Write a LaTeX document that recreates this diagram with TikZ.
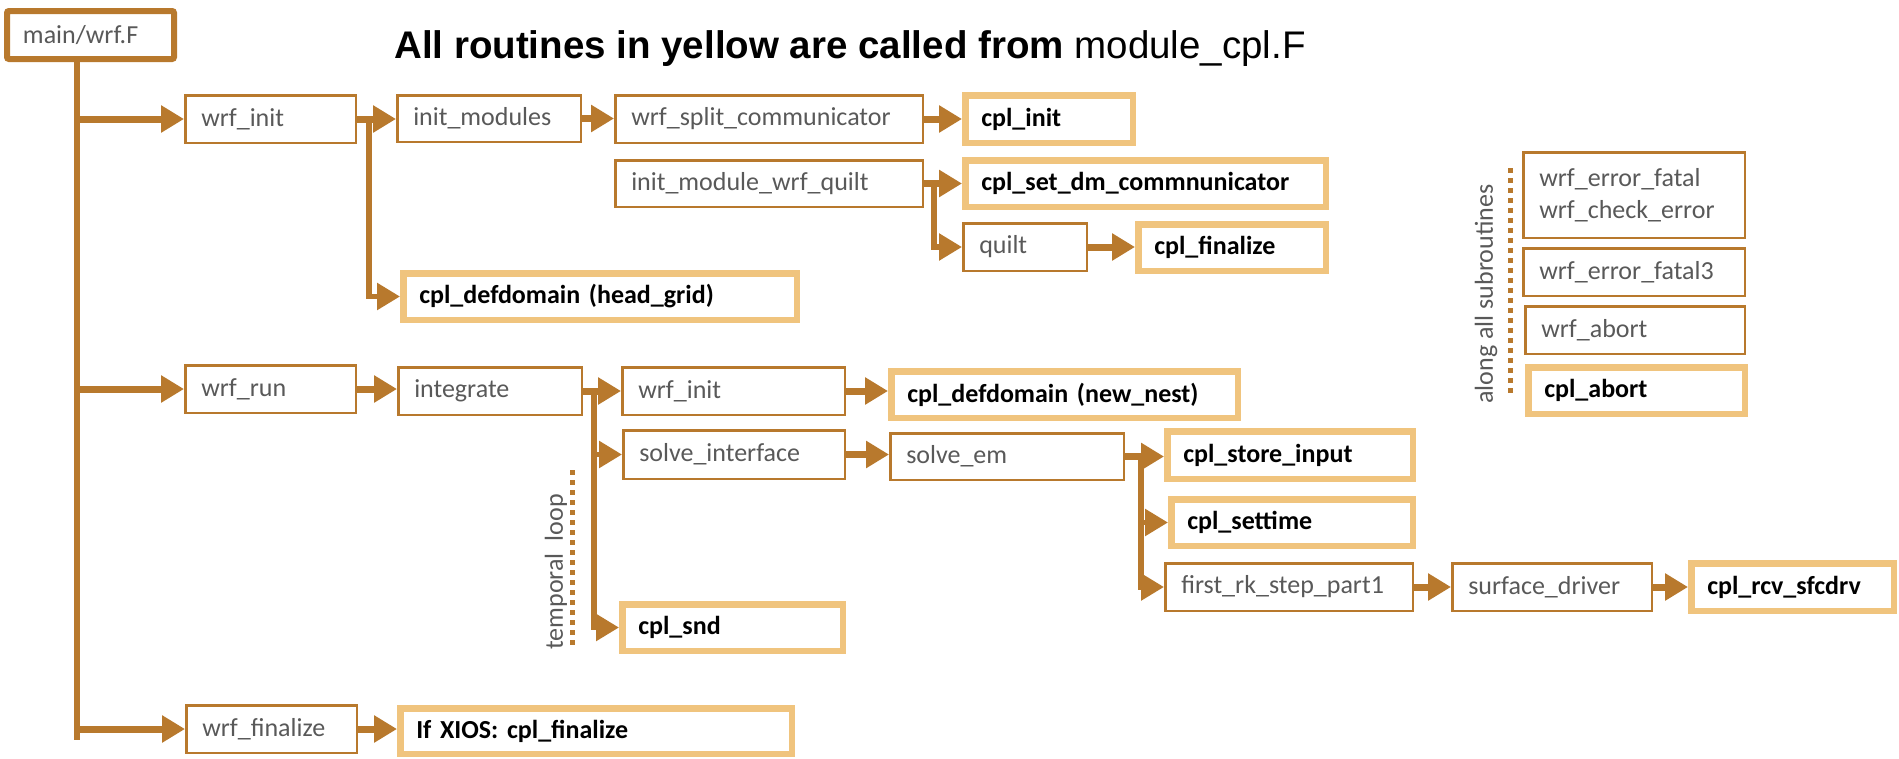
\documentclass[tikz,border=0pt]{standalone}
\usepackage{fontspec}
\setmainfont{Carlito}
\newfontfamily\arialfont{Liberation Sans}
\usetikzlibrary{arrows.meta,calc}

\definecolor{brn}{RGB}{184,121,45}
\definecolor{lightor}{RGB}{240,196,126}
\definecolor{txtgray}{RGB}{89,89,89}

\newcommand\nobreakwords{\hyphenpenalty 10000\relax\exhyphenpenalty 10000\relax}
\newcommand\labelfont{\fontsize{26}{32}\selectfont\nobreakwords}

\tikzset{
  boxtext/.style={font={\labelfont}},
  box/.style={rectangle, inner ysep=0pt, inner xsep=16pt, align=left, boxtext},
  callbox/.style={box, draw=brn, line width=2.5pt, text=txtgray},
  cplbox/.style={box, draw=lightor, line width=6.5pt, text=black, font={\labelfont\bfseries}},
  mainbox/.style={box, draw=brn, line width=6pt, text=txtgray, rounded corners=2pt},
  flow/.style={draw=brn, line width=7pt, -{Triangle[length=23pt,width=26pt]}},
  branch/.style={draw=brn, line width=5.5pt, -{Triangle[length=23pt,width=26pt]}},
  trunk/.style={draw=brn, line width=6pt},
  loopmark/.style={draw=brn, line width=5pt, dash pattern=on 5pt off 5pt},
  sidenote/.style={text=txtgray, boxtext, rotate=90, inner sep=0pt},
}

% \routine{style}{border width}{name}{x1}{y1}{x2}{y2}{label}
\newcommand\routine[8]{%
  \pgfmathsetmacro\rtw{#6-#4-#2-32}%
  \pgfmathsetmacro\rht{#7-#5-#2}%
  \node[#1, text width=\rtw pt, minimum height=\rht pt] (#3) at ({(#4+#6)/2},{(#5+#7)/2}) {#8};}

\begin{document}
\begin{tikzpicture}[x=1pt, y=-1pt]
\useasboundingbox[fill=white] (0,0) rectangle (1899,758);

% heading
\node[anchor=base west, inner sep=0pt, font={\arialfont\fontsize{38.5}{42}\selectfont}] (heading) at (394,58)
  {\textbf{All routines in yellow are called from} module\_cpl.F};

% routines
\routine{mainbox}{6}{main}{4}{8}{177}{62}{main/wrf.F}

\routine{callbox}{2.5}{wrfinit}{184}{94}{357}{144}{wrf\_init}
\routine{callbox}{2.5}{initmod}{396}{94}{582}{143}{init\_modules}
\routine{callbox}{2.5}{wrfsplit}{614}{94}{924}{144}{wrf\_split\_communicator}
\routine{cplbox}{6.5}{cplinit}{962}{92}{1136}{146}{cpl\_init}
\routine{callbox}{2.5}{quiltmod}{614}{159}{924}{208}{init\_module\_wrf\_quilt}
\routine{cplbox}{6.5}{setdm}{962}{157}{1329}{210}{cpl\_set\_dm\_commnunicator}
\routine{callbox}{2.5}{quilt}{962}{222}{1088}{272}{quilt}
\routine{cplbox}{6.5}{cplfin}{1135}{221}{1329}{274}{cpl\_finalize}
\routine{cplbox}{6.5}{defhead}{400}{270}{800}{323}{cpl\_defdomain (head\_grid)}

\routine{callbox}{2.5}{errfatal}{1522}{151}{1746}{239}{wrf\_error\_fatal\\wrf\_check\_error}
\routine{callbox}{2.5}{errfatalthree}{1522}{247}{1746}{297}{wrf\_error\_fatal3}
\routine{callbox}{2.5}{wrfabort}{1524}{305}{1746}{355}{wrf\_abort}
\routine{cplbox}{6.5}{cplabort}{1525}{364}{1748}{417}{cpl\_abort}

\routine{callbox}{2.5}{wrfrun}{184}{364}{357}{414}{wrf\_run}
\routine{callbox}{2.5}{integrate}{397}{366}{583}{416}{integrate}
\routine{callbox}{2.5}{wrfinitnest}{621}{366}{846}{416}{wrf\_init}
\routine{cplbox}{6.5}{defnest}{888}{368}{1241}{421}{cpl\_defdomain (new\_nest)}
\routine{callbox}{2.5}{solveint}{622}{429}{846}{480}{solve\_interface}
\routine{callbox}{2.5}{solveem}{889}{432}{1125}{481}{solve\_em}
\routine{cplbox}{6.5}{storein}{1164}{428}{1416}{482}{cpl\_store\_input}
\routine{cplbox}{6.5}{settime}{1168}{496}{1416}{549}{cpl\_settime}
\routine{callbox}{2.5}{firstrk}{1164}{562}{1414}{612}{first\_rk\_step\_part1}
\routine{callbox}{2.5}{surfdrv}{1451}{562}{1653}{612}{surface\_driver}
\routine{cplbox}{6.5}{rcvsfc}{1688}{560}{1897}{614}{cpl\_rcv\_sfcdrv}
\routine{cplbox}{6.5}{cplsnd}{619}{601}{846}{654}{cpl\_snd}

\routine{callbox}{2.5}{wrffin}{185}{704}{358}{754}{wrf\_finalize}
\routine{cplbox}{6.5}{xiosfin}{397}{705}{795}{757}{If XIOS: cpl\_finalize}

% side notes with their dotted brackets
\node[sidenote] (alongnote) at (1486,294) {along all subroutines};
\draw[loopmark] (1510,168) -- (1510,396);
\node[sidenote] (loopnote) at (556,572) {temporal\hspace{12pt}loop};
\draw[loopmark] (572,470) -- (572,649);

% main call trunk
\coordinate (trunkend) at (77,740);
\draw[trunk] (main.south -| trunkend) -- (trunkend);
\draw[flow] (trunkend |- wrfinit.west) -- (wrfinit.west);
\draw[flow] (trunkend |- wrfrun.west) -- (wrfrun.west);
\draw[flow] (trunkend |- wrffin.west) -- (wrffin.west);

% initialisation
\draw[flow] (wrfinit.east) -- (wrfinit.east -| initmod.west);
\draw[branch] ($(wrfinit.east)+(12,0)$) |- (defhead.west);
\draw[flow] (initmod.east) -- (initmod.east -| wrfsplit.west);
\draw[flow] (wrfsplit.east) -- (wrfsplit.east -| cplinit.west);
\draw[flow] (quiltmod.east) -- (quiltmod.east -| setdm.west);
\draw[branch] ($(quiltmod.east)+(10,0)$) |- (quilt.west);
\draw[flow] (quilt.east) -- (quilt.east -| cplfin.west);

% time integration
\draw[flow] (wrfrun.east) -- (wrfrun.east -| integrate.west);
\draw[flow] (integrate.east) -- (integrate.east -| wrfinitnest.west);
\draw[branch] ($(integrate.east)+(11,0)$) |- (solveint.west);
\draw[branch] ($(integrate.east)+(11,0)$) |- (cplsnd.west);
\draw[flow] (wrfinitnest.east) -- (wrfinitnest.east -| defnest.west);
\draw[flow] (solveint.east) -- (solveint.east -| solveem.west);
\draw[flow] (solveem.east) -- (solveem.east -| storein.west);
\draw[branch] ($(solveem.east)+(16,0)$) |- (settime.west);
\draw[branch] ($(solveem.east)+(16,0)$) |- (firstrk.west);
\draw[flow] (firstrk.east) -- (firstrk.east -| surfdrv.west);
\draw[flow] (surfdrv.east) -- (surfdrv.east -| rcvsfc.west);

% finalisation
\draw[flow] (wrffin.east) -- (wrffin.east -| xiosfin.west);
\end{tikzpicture}
\end{document}
